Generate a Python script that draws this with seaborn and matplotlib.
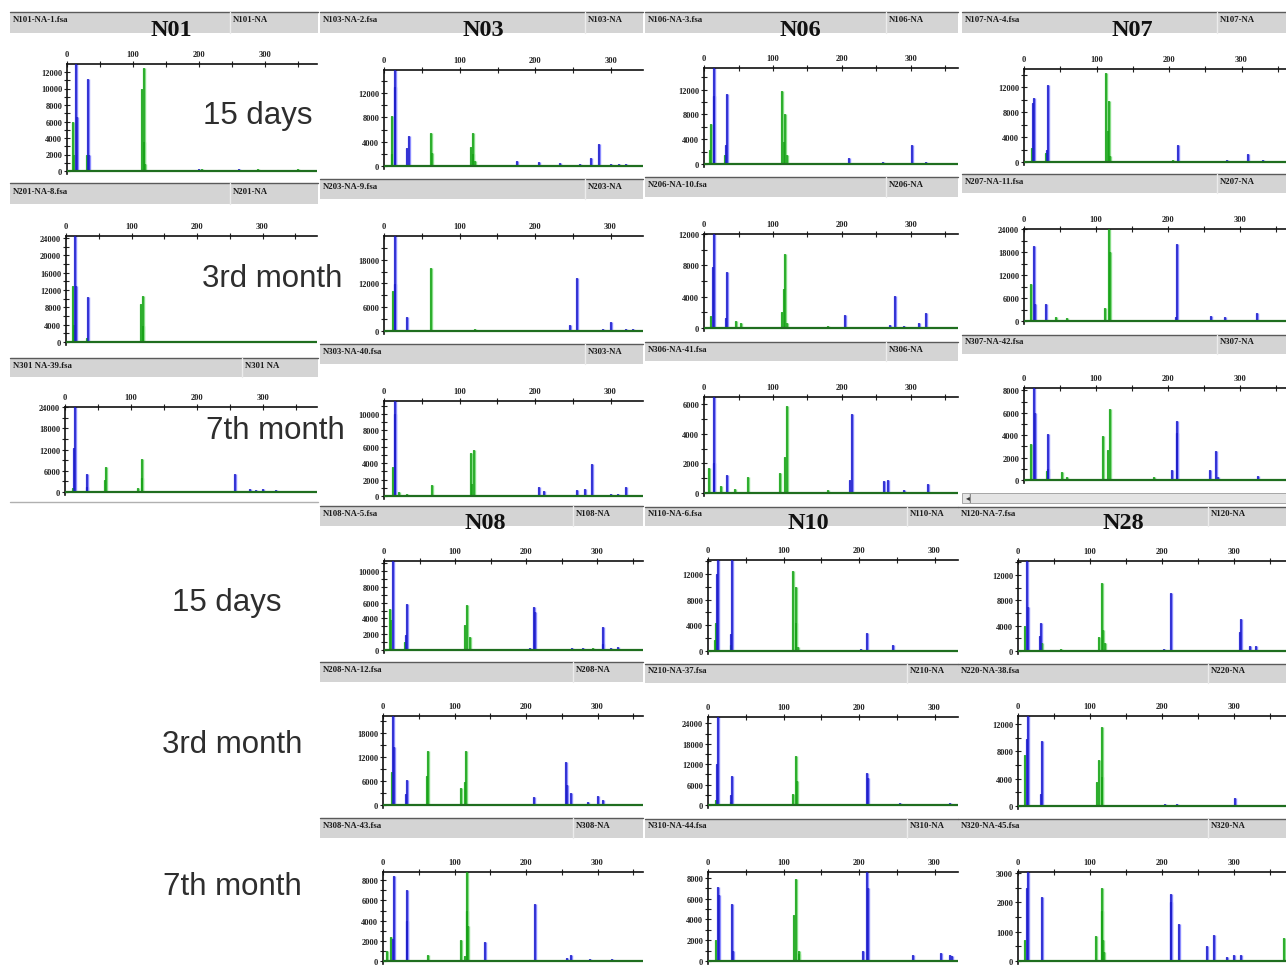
import matplotlib
matplotlib.use("Agg")
import matplotlib.pyplot as plt
from matplotlib.patches import Rectangle
from matplotlib.lines import Line2D
from matplotlib.ticker import MultipleLocator, FuncFormatter
import seaborn as sns

# ---------------------------------------------------------------------------
# Peak tables: (fragment size in bp, peak height in RFU) for each run,
# split by dye (blue / green).
# ---------------------------------------------------------------------------
N101_BLUE = [(14, 30000), (15, 6500), (32, 11200), (33, 2000), (200, 300), (260, 200)]
N101_GREEN = [(9, 6000), (10, 2000), (30, 2000), (114, 10000), (116, 12500), (117, 3500),
              (118, 900), (205, 300), (290, 200), (350, 200)]

N103_BLUE = [(15, 30000), (14, 13000), (33, 5000), (31, 3000), (176, 900), (205, 600),
             (232, 500), (259, 300), (274, 1300), (284, 3700), (300, 400), (311, 300), (320, 300)]
N103_GREEN = [(11, 8300), (10, 2000), (62, 5500), (63, 2200), (115, 3200), (117, 5500),
              (118, 2000), (120, 800)]

N106_BLUE = [(14, 30000), (15, 11000), (33, 11300), (32, 3000), (210, 1000), (302, 3000),
             (240, 200), (260, 250), (280, 200), (322, 300)]
N106_GREEN = [(10, 6500), (9, 2200), (30, 1500), (113, 11800), (117, 8000), (116, 3500),
              (120, 1500), (45, 200)]

N107_BLUE = [(14, 10300), (13, 9500), (33, 12300), (32, 2000), (212, 2700), (309, 1300),
             (280, 300), (330, 300)]
N107_GREEN = [(11, 2200), (30, 1500), (113, 14200), (117, 9800), (116, 5000), (118, 1000),
              (205, 400), (255, 200)]

N201_BLUE = [(14, 30000), (15, 13000), (34, 10300), (200, 300), (210, 200)]
N201_GREEN = [(11, 13000), (12, 4000), (32, 1000), (115, 8700), (117, 10700), (118, 3800), (260, 200)]

N203_BLUE = [(14, 30000), (15, 11900), (31, 3500), (246, 1400), (256, 13400), (290, 500),
             (300, 2200), (320, 500), (330, 400)]
N203_GREEN = [(12, 10000), (62, 16000), (120, 500), (200, 300)]

N206_BLUE = [(14, 30000), (13, 7800), (33, 7100), (32, 1300), (205, 1600), (277, 4100),
             (270, 400), (312, 700), (322, 1900), (290, 300)]
N206_GREEN = [(10, 1500), (47, 900), (54, 700), (113, 2000), (116, 5000), (118, 9500),
              (120, 600), (180, 200)]

N207_BLUE = [(14, 19700), (15, 4500), (31, 4400), (212, 20000), (211, 1000), (260, 1200),
             (279, 1000), (323, 2000), (300, 300)]
N207_GREEN = [(10, 9700), (45, 1000), (60, 800), (113, 3500), (118, 30000), (119, 18000), (190, 300)]

N301_BLUE = [(15, 30000), (14, 12500), (34, 5000), (33, 1500), (258, 5100), (280, 900),
             (290, 600), (300, 800), (320, 700)]
N301_GREEN = [(12, 1000), (62, 7000), (61, 3500), (110, 1000), (116, 9300), (117, 4000), (350, 300)]

N303_BLUE = [(14, 30000), (15, 10000), (205, 1100), (212, 600), (256, 700), (266, 900),
             (276, 3900), (300, 200), (310, 300), (320, 1100)]
N303_GREEN = [(12, 3500), (20, 500), (30, 300), (63, 1300), (115, 5300), (119, 5600), (117, 1500)]

N306_BLUE = [(14, 30000), (15, 2000), (33, 1200), (211, 900), (215, 5350), (261, 800),
             (266, 900), (324, 600), (290, 200)]
N306_GREEN = [(7, 1700), (24, 500), (45, 300), (64, 1100), (110, 1350), (118, 2400),
              (120, 5900), (180, 200)]

N307_BLUE = [(14, 30000), (15, 6000), (33, 4100), (34, 1000), (205, 900), (212, 5300),
             (213, 4200), (258, 900), (266, 2600), (325, 400), (270, 300)]
N307_GREEN = [(10, 3200), (32, 800), (53, 700), (60, 300), (110, 3900), (117, 2700),
              (119, 6300), (180, 300)]

N108_BLUE = [(13, 30000), (32, 5800), (31, 1900), (205, 300), (211, 5500), (212, 4800),
             (265, 300), (280, 200), (309, 2900), (308, 800), (320, 300), (330, 400)]
N108_GREEN = [(9, 5200), (10, 3800), (30, 1000), (114, 3200), (117, 5700), (121, 1600), (295, 300)]

N110_BLUE = [(13, 30000), (12, 12000), (32, 30000), (31, 2700), (203, 300), (211, 2800), (245, 900)]
N110_GREEN = [(10, 4400), (9, 1700), (30, 1000), (113, 12500), (117, 10000), (116, 4400), (119, 700)]

N120_BLUE = [(13, 30000), (14, 7000), (32, 4500), (31, 2300), (203, 300), (212, 9200),
             (230, 200), (260, 200), (310, 5000), (309, 3000), (322, 800), (331, 800)]
N120_GREEN = [(10, 3900), (34, 1200), (60, 300), (113, 2200), (117, 10700), (118, 3300), (121, 1200)]

N208_BLUE = [(14, 30000), (15, 14400), (33, 6300), (32, 2700), (211, 1900), (256, 10700),
             (257, 5000), (263, 3000), (287, 800), (300, 2300), (308, 1200), (320, 300), (330, 300)]
N208_GREEN = [(12, 8200), (63, 13600), (62, 7300), (109, 4300), (116, 13600), (115, 5700)]

N210_BLUE = [(13, 30000), (12, 12000), (32, 8600), (31, 3000), (211, 9400), (212, 8000),
             (254, 600), (278, 300), (320, 600)]
N210_GREEN = [(10, 1500), (30, 1000), (113, 3300), (117, 14500), (118, 7200)]

N220_BLUE = [(14, 30000), (13, 9800), (33, 9500), (32, 1800), (204, 300), (221, 300), (301, 1100)]
N220_GREEN = [(10, 7400), (110, 3500), (113, 6800), (116, 11500), (117, 4300)]

N308_BLUE = [(15, 8400), (14, 2200), (33, 7000), (34, 4000), (142, 1850), (212, 5650),
             (258, 300), (263, 600), (290, 200), (320, 200)]
N308_GREEN = [(6, 1000), (11, 2400), (63, 600), (109, 2050), (114, 500), (117, 30000),
              (118, 5000), (119, 3500)]

N310_BLUE = [(13, 7100), (14, 6300), (32, 5500), (33, 1000), (205, 1000), (211, 30000),
             (212, 7000), (272, 600), (309, 800), (320, 600), (323, 500)]
N310_GREEN = [(10, 2000), (114, 4400), (117, 7900), (120, 1000), (121, 700)]

N320_BLUE = [(14, 30000), (13, 2500), (33, 2200), (212, 2300), (213, 2000), (224, 1250),
             (262, 500), (272, 900), (290, 150), (300, 200), (310, 200)]
N320_GREEN = [(10, 700), (108, 860), (116, 2500), (117, 1700), (118, 700), (120, 300), (369, 800)]

# Run labels (file name, sample name) and isolate titles
SAMPLE_FILES = ["N101-NA-1.fsa", "N103-NA-2.fsa", "N106-NA-3.fsa", "N107-NA-4.fsa",
                "N201-NA-8.fsa", "N203-NA-9.fsa", "N206-NA-10.fsa", "N207-NA-11.fsa",
                "N301 NA-39.fsa", "N303-NA-40.fsa", "N306-NA-41.fsa", "N307-NA-42.fsa",
                "N108-NA-5.fsa", "N110-NA-6.fsa", "N120-NA-7.fsa",
                "N208-NA-12.fsa", "N210-NA-37.fsa", "N220-NA-38.fsa",
                "N308-NA-43.fsa", "N310-NA-44.fsa", "N320-NA-45.fsa"]
SAMPLE_NAMES = ["N101-NA", "N103-NA", "N106-NA", "N107-NA",
                "N201-NA", "N203-NA", "N206-NA", "N207-NA",
                "N301 NA", "N303-NA", "N306-NA", "N307-NA",
                "N108-NA", "N110-NA", "N120-NA",
                "N208-NA", "N210-NA", "N220-NA",
                "N308-NA", "N310-NA", "N320-NA"]
ISOLATES_TOP = ["N01", "N03", "N06", "N07"]
ISOLATES_BOTTOM = ["N08", "N10", "N28"]
TIMEPOINTS = ["15 days", "3rd month", "7th month"]

PEAKS = [(N101_BLUE, N101_GREEN), (N103_BLUE, N103_GREEN), (N106_BLUE, N106_GREEN), (N107_BLUE, N107_GREEN),
         (N201_BLUE, N201_GREEN), (N203_BLUE, N203_GREEN), (N206_BLUE, N206_GREEN), (N207_BLUE, N207_GREEN),
         (N301_BLUE, N301_GREEN), (N303_BLUE, N303_GREEN), (N306_BLUE, N306_GREEN), (N307_BLUE, N307_GREEN),
         (N108_BLUE, N108_GREEN), (N110_BLUE, N110_GREEN), (N120_BLUE, N120_GREEN),
         (N208_BLUE, N208_GREEN), (N210_BLUE, N210_GREEN), (N220_BLUE, N220_GREEN),
         (N308_BLUE, N308_GREEN), (N310_BLUE, N310_GREEN), (N320_BLUE, N320_GREEN)]

# ---------------------------------------------------------------------------
# Layout (pixels): header box, divider, plot origin, px per bp, right edge,
# top line, baseline, px per 1000 RFU, y tick step
# ---------------------------------------------------------------------------
LAYOUT = [
    dict(hdr=(10, 318, 13, 34), div=230, x0=67, k=0.66, right=317, top=65, base=172, ppk=8.25, step=2000),
    dict(hdr=(320, 643, 13, 34), div=585, x0=384, k=0.757, right=643, top=71, base=167, ppk=6.08, step=4000),
    dict(hdr=(645, 958, 13, 34), div=886, x0=704, k=0.69, right=958, top=69, base=165, ppk=6.2, step=4000),
    dict(hdr=(962, 1286, 13, 34), div=1217, x0=1024, k=0.725, right=1286, top=70, base=163, ppk=6.25, step=4000),
    dict(hdr=(10, 318, 184, 205), div=230, x0=66, k=0.655, right=317, top=237, base=343, ppk=4.33, step=4000),
    dict(hdr=(320, 643, 180, 200), div=585, x0=384, k=0.755, right=643, top=237, base=332, ppk=3.96, step=6000),
    dict(hdr=(645, 958, 178, 198), div=886, x0=704, k=0.69, right=958, top=235, base=329, ppk=7.83, step=4000),
    dict(hdr=(962, 1286, 175, 194), div=1217, x0=1024, k=0.72, right=1286, top=230, base=322, ppk=3.83, step=6000),
    dict(hdr=(10, 318, 359, 378), div=242, x0=65, k=0.66, right=317, top=408, base=493, ppk=3.54, step=6000),
    dict(hdr=(320, 643, 345, 365), div=585, x0=384, k=0.755, right=643, top=402, base=497, ppk=8.2, step=2000),
    dict(hdr=(645, 958, 343, 362), div=886, x0=704, k=0.69, right=958, top=398, base=494, ppk=14.8, step=2000),
    dict(hdr=(962, 1286, 336, 355), div=1217, x0=1024, k=0.72, right=1286, top=389, base=481, ppk=11.2, step=2000),
    dict(hdr=(320, 643, 507, 527), div=573, x0=384, k=0.71, right=643, top=562, base=651, ppk=7.9, step=2000),
    dict(hdr=(645, 958, 508, 527), div=907, x0=708, k=0.755, right=958, top=561, base=652, ppk=6.42, step=4000),
    dict(hdr=(958, 1286, 508, 527), div=1208, x0=1018, k=0.72, right=1286, top=562, base=652, ppk=6.33, step=4000),
    dict(hdr=(320, 643, 663, 683), div=573, x0=383, k=0.715, right=643, top=717, base=806, ppk=4.0, step=6000),
    dict(hdr=(645, 958, 665, 684), div=907, x0=708, k=0.755, right=958, top=718, base=806, ppk=3.4, step=6000),
    dict(hdr=(958, 1286, 665, 684), div=1208, x0=1018, k=0.72, right=1286, top=717, base=807, ppk=6.83, step=4000),
    dict(hdr=(320, 643, 819, 839), div=573, x0=383, k=0.715, right=643, top=873, base=962, ppk=10.1, step=2000),
    dict(hdr=(645, 958, 820, 839), div=907, x0=708, k=0.755, right=958, top=873, base=962, ppk=10.4, step=2000),
    dict(hdr=(958, 1286, 820, 839), div=1208, x0=1018, k=0.72, right=1286, top=873, base=962, ppk=29.3, step=1000),
]

W, H = 1286, 970
BLUE_DARK, BLUE_LIGHT = "#1a1ac8", "#8c8cff"
GREEN_DARK, GREEN_LIGHT = "#14a014", "#86dc86"
BASELINE = "#1f6e1f"

sns.set_style("white")
plt.rcParams["font.family"] = ["Liberation Sans", "DejaVu Sans"]

fig = plt.figure(figsize=(W / 100, H / 100), dpi=100)
fig.patch.set_facecolor("white")


def fx(x):
    return x / W


def fy(y):
    return 1 - y / H


def draw_header(lay, file_label, sample_label):
    x0, x1, y0, y1 = lay["hdr"]
    fig.add_artist(Rectangle((fx(x0), fy(y1)), (x1 - x0) / W, (y1 - y0) / H,
                             transform=fig.transFigure, facecolor="#d4d4d4",
                             edgecolor="none", zorder=1))
    fig.add_artist(Line2D([fx(x0), fx(x1)], [fy(y0), fy(y0)], transform=fig.transFigure,
                          color="#5a5a5a", lw=1.0, zorder=2))
    fig.add_artist(Line2D([fx(lay["div"]), fx(lay["div"])], [fy(y0), fy(y1)],
                          transform=fig.transFigure, color="#ececec", lw=1.0, zorder=2))
    ymid = fy((y0 + y1) / 2 - 3)
    fig.text(fx(x0 + 3), ymid, file_label, fontsize=6.3, fontweight="bold",
             family="Liberation Serif", va="center", ha="left", color="#1a1a1a", zorder=3)
    fig.text(fx(lay["div"] + 3), ymid, sample_label, fontsize=6.3, fontweight="bold",
             family="Liberation Serif", va="center", ha="left", color="#1a1a1a", zorder=3)


def draw_trace(lay, blue, green):
    pad = 3
    ax = fig.add_axes([fx(lay["x0"]), fy(lay["base"] + pad),
                       (lay["right"] - lay["x0"]) / W, (lay["base"] + pad - lay["top"]) / H])
    ymax = (lay["base"] - lay["top"]) / lay["ppk"] * 1000
    ax.set_xlim(0, (lay["right"] - lay["x0"]) / lay["k"])
    ax.set_ylim(-pad / lay["ppk"] * 1000, ymax)
    ax.set_facecolor("white")

    for peaks, light, dark in ((green, GREEN_LIGHT, GREEN_DARK), (blue, BLUE_LIGHT, BLUE_DARK)):
        xs = [p[0] for p in peaks]
        hs = [p[1] for p in peaks]
        ax.vlines(xs, 0, hs, colors=light, lw=2.4, zorder=2)
        ax.vlines(xs, 0, hs, colors=dark, lw=1.1, zorder=3)
    ax.axhline(0, color=BASELINE, lw=1.6, zorder=4)

    sns.despine(ax=ax, top=False, right=True, bottom=True, left=False)
    for side in ("top", "left"):
        ax.spines[side].set_color("#111111")
        ax.spines[side].set_linewidth(1.2)

    ax.xaxis.tick_top()
    ax.xaxis.set_major_locator(MultipleLocator(100))
    ax.xaxis.set_minor_locator(MultipleLocator(50))
    ax.yaxis.set_major_locator(MultipleLocator(lay["step"]))
    ax.yaxis.set_minor_locator(MultipleLocator(lay["step"] / 2))
    ax.yaxis.set_major_formatter(FuncFormatter(lambda v, _: f"{int(round(v))}" if v >= 0 else ""))
    ax.tick_params(axis="x", which="both", direction="inout", length=5, width=0.8,
                   top=True, bottom=False, labeltop=True, labelbottom=False,
                   labelsize=6, pad=2, colors="#222222")
    ax.tick_params(axis="y", which="both", direction="inout", length=5, width=0.8,
                   left=True, right=False, labelsize=6, pad=1, colors="#222222")
    for lbl in ax.get_xticklabels() + ax.get_yticklabels():
        lbl.set_family("Liberation Serif")
        lbl.set_fontweight("bold")
    ax.grid(False)
    return ax


for lay, fname, sname, (blue, green) in zip(LAYOUT, SAMPLE_FILES, SAMPLE_NAMES, PEAKS):
    draw_header(lay, fname, sname)
    draw_trace(lay, blue, green)

# Isolate titles over the first row of each block
for name, (x, y) in zip(ISOLATES_TOP, [(171, 31), (483, 31), (800, 31), (1132, 31)]):
    fig.text(fx(x), fy(y), name, fontsize=17.5, fontweight="bold", family="Liberation Serif",
             ha="center", va="center", color="#111111", zorder=5)
for name, (x, y) in zip(ISOLATES_BOTTOM, [(485, 524), (808, 524), (1123, 524)]):
    fig.text(fx(x), fy(y), name, fontsize=17.5, fontweight="bold", family="Liberation Serif",
             ha="center", va="center", color="#111111", zorder=5)

# Sampling time labels
for label, (x, y) in zip(TIMEPOINTS, [(258, 116), (272, 279), (275, 431)]):
    fig.text(fx(x), fy(y), label, fontsize=22.5, family="Liberation Sans",
             ha="center", va="center", color="#2e2e2e", zorder=6)
for label, (x, y) in zip(TIMEPOINTS, [(227, 603), (232, 745), (232, 887)]):
    fig.text(fx(x), fy(y), label, fontsize=22.5, family="Liberation Sans",
             ha="center", va="center", color="#2e2e2e", zorder=6)

# Frame line under the first column and the scroll strip under the last trace
fig.add_artist(Line2D([fx(10), fx(318)], [fy(503), fy(503)], transform=fig.transFigure,
                      color="#b0b0b0", lw=1.0))
fig.add_artist(Rectangle((fx(962), fy(504)), (1286 - 962) / W, 10 / H, transform=fig.transFigure,
                         facecolor="#e4e4e4", edgecolor="#9a9a9a", lw=0.6))
fig.text(fx(966), fy(499), "\u25c2|", fontsize=5.5, family="DejaVu Sans",
         ha="left", va="center", color="#333333")

fig.savefig("out.png", dpi=100, facecolor="white")
